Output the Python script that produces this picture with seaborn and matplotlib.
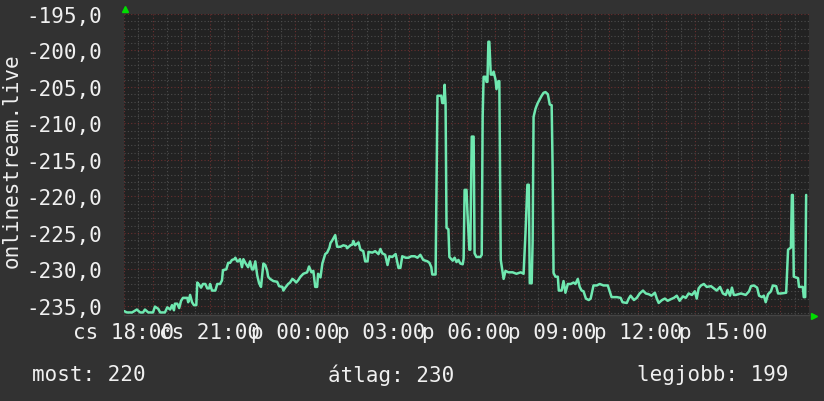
import matplotlib
matplotlib.use("Agg")
import matplotlib.pyplot as plt
from matplotlib.ticker import MultipleLocator, FuncFormatter
import seaborn as sns
import pandas as pd
import numpy as np

# minutes since Thursday 18:00
minutes = [0, 6, 17, 27, 34, 40, 44, 51, 61, 65, 72, 76, 86, 91, 97, 101, 105, 107, 112, 116,
           120, 124, 133, 135, 139, 143, 147, 152, 154, 158, 162, 166, 171, 175, 179, 181, 185, 192, 196, 202,
           206, 208, 215, 219, 223, 227, 232, 234, 238, 240, 244, 248, 251, 255, 261, 265, 269, 272, 276, 280,
           284, 288, 293, 297, 301, 303, 307, 314, 322, 326, 333, 335, 339, 345, 349, 354, 358, 362, 366, 371,
           377, 385, 389, 394, 398, 402, 406, 408, 413, 417, 423, 427, 432, 434, 438, 444, 448, 455, 461, 467,
           469, 476, 480, 482, 486, 493, 497, 503, 507, 512, 514, 522, 528, 535, 539, 543, 549, 554, 558, 564,
           571, 577, 581, 585, 592, 598, 604, 611, 617, 623, 629, 638, 642, 646, 648, 655, 659, 667, 669, 672,
           674, 676, 678, 682, 684, 691, 695, 699, 703, 707, 712, 714, 716, 720, 722, 726, 728, 731, 735, 737,
           741, 749, 752, 754, 756, 760, 762, 764, 766, 768, 771, 775, 777, 781, 783, 787, 789, 792, 796, 798,
           802, 808, 817, 825, 834, 840, 844, 848, 851, 853, 857, 859, 861, 865, 869, 874, 878, 882, 886, 891,
           895, 899, 901, 903, 907, 912, 914, 920, 924, 928, 933, 939, 945, 949, 954, 958, 962, 966, 971, 977,
           981, 987, 994, 1000, 1008, 1017, 1021, 1025, 1036, 1044, 1048, 1057, 1061, 1065, 1072, 1078, 1084, 1091, 1097, 1103,
           1109, 1116, 1120, 1124, 1131, 1137, 1143, 1149, 1156, 1162, 1168, 1175, 1181, 1187, 1194, 1200, 1204, 1208, 1213, 1219,
           1225, 1234, 1240, 1246, 1253, 1259, 1265, 1269, 1274, 1278, 1282, 1286, 1297, 1307, 1314, 1318, 1324, 1331, 1335, 1341,
           1345, 1349, 1354, 1360, 1364, 1371, 1375, 1381, 1392, 1396, 1402, 1404, 1406, 1408, 1417, 1419, 1427, 1429, 1432, 1434]

values = [-235.7, -235.9, -235.9, -235.5, -235.9, -235.9, -235.5, -235.9, -235.9, -235.1, -235.4, -235.9, -235.9, -235.2, -235.5, -234.9, -235.6, -234.7, -234.7, -235.3,
          -234.3, -233.9, -233.9, -234.5, -233.5, -234.5, -234.9, -234.9, -231.8, -232.1, -232.5, -232.0, -232.0, -232.6, -232.6, -232.0, -232.9, -232.9, -232.0, -232.0,
          -231.5, -230.1, -230.0, -229.1, -229.1, -228.7, -228.6, -228.4, -228.9, -228.9, -228.6, -229.7, -228.6, -229.1, -229.7, -228.9, -230.0, -230.0, -228.9, -230.8,
          -231.9, -232.4, -229.2, -229.4, -230.2, -231.0, -231.3, -231.6, -231.7, -232.3, -232.4, -232.9, -232.5, -232.0, -231.8, -231.3, -231.5, -231.8, -231.5, -231.0,
          -230.6, -230.4, -229.6, -230.4, -230.2, -232.4, -232.4, -230.6, -231.1, -229.2, -227.9, -227.7, -227.0, -226.4, -226.0, -225.3, -226.9, -226.9, -226.7, -226.8,
          -227.1, -226.7, -226.6, -226.1, -226.7, -226.3, -227.3, -227.5, -228.9, -228.9, -227.6, -227.7, -227.5, -227.9, -227.2, -227.8, -228.0, -229.4, -228.2, -228.3,
          -227.9, -229.8, -229.8, -228.2, -228.4, -228.4, -228.2, -228.2, -228.4, -228.0, -228.7, -228.9, -229.1, -229.7, -230.7, -230.7, -206.2, -206.2, -207.2, -207.2,
          -204.7, -207.3, -224.3, -224.5, -228.3, -228.8, -228.4, -229.0, -228.7, -229.2, -229.3, -228.5, -219.1, -219.1, -222.2, -227.3, -227.3, -211.8, -211.8, -227.8,
          -228.3, -228.3, -228.0, -209.0, -203.6, -203.6, -204.3, -204.3, -198.8, -198.8, -203.3, -203.3, -202.9, -204.0, -205.3, -204.2, -204.2, -228.7, -230.5, -231.3,
          -230.2, -230.4, -230.4, -230.6, -230.4, -230.6, -225.0, -218.4, -218.4, -231.9, -231.9, -226.2, -209.1, -208.0, -207.3, -206.7, -206.2, -205.8, -205.7, -206.0,
          -207.4, -207.5, -215.9, -230.5, -231.0, -231.0, -232.9, -232.9, -231.6, -233.2, -232.0, -232.0, -231.8, -232.0, -231.3, -232.4, -232.9, -233.0, -234.0, -234.2,
          -234.0, -232.2, -232.2, -232.0, -232.2, -232.2, -233.0, -233.8, -233.8, -233.9, -234.5, -234.6, -234.0, -233.6, -234.2, -233.9, -233.3, -232.9, -233.3, -233.4,
          -233.6, -233.2, -234.0, -234.6, -234.2, -234.0, -234.3, -234.1, -233.9, -233.6, -234.3, -233.7, -233.9, -233.3, -233.5, -233.0, -234.0, -232.6, -232.2, -232.0,
          -232.4, -232.3, -232.6, -232.9, -232.4, -233.3, -233.5, -232.8, -233.6, -232.5, -233.5, -233.5, -233.3, -233.5, -233.0, -232.3, -232.2, -232.5, -233.6, -233.8,
          -233.6, -234.5, -233.4, -233.0, -232.2, -232.3, -233.3, -233.3, -233.2, -227.3, -227.0, -219.8, -219.8, -231.0, -231.2, -232.4, -232.4, -233.8, -233.8, -219.8]

tick_hours = [0, 3, 6, 9, 12, 15, 18, 21]
tick_labels = ["cs 18:00", "cs 21:00", "p 00:00", "p 03:00", "p 06:00", "p 09:00", "p 12:00", "p 15:00"]
y_label = "onlinestream.live"
footer = ["most: 220", "átlag: 230", "legjobb: 199"]

BG = "#323232"
PLOT_BG = "#222222"
FG = "#f0f0f0"
LINE = "#6fe8b0"
MAJOR = "#6a2f2f"
MINOR = "#4c4c4c"
ARROW = "#00dd00"

sns.set_theme(style="dark")
plt.rcParams["font.family"] = ["DejaVu Sans Mono"]
plt.rcParams["font.size"] = 15

df = pd.DataFrame({"hours": np.array(minutes) / 60.0, "value": values})

fig = plt.figure(figsize=(8.24, 4.02), dpi=100, facecolor=BG)
ax = fig.add_axes([124 / 824, 1 - 316 / 402, (809 - 124) / 824, (316 - 15) / 402])
ax.set_facecolor(PLOT_BG)

ax.set_xlim(0, 24)
ax.set_ylim(-236.25, -195.0)

# dotted grid: hours / 5 units (red), half hours / 1 unit (gray)
ax.grid(False)
for h in np.arange(0, 24.01, 0.5):
    ax.axvline(h, color=MAJOR if float(h).is_integer() else MINOR,
               linestyle=(0, (1, 2)), linewidth=0.8, zorder=1)
for v in range(-236, -194):
    ax.axhline(v, color=MAJOR if v % 5 == 0 else MINOR,
               linestyle=(0, (1, 2)), linewidth=0.8, zorder=1)

sns.lineplot(data=df, x="hours", y="value", ax=ax, color=LINE, linewidth=1.8, zorder=3)

ax.set_xticks(tick_hours, labels=tick_labels)
ax.set_xticks(np.arange(0, 24.01, 1), minor=True)
ax.yaxis.set_major_locator(MultipleLocator(5))
ax.yaxis.set_major_formatter(FuncFormatter(lambda v, p: f"{v:.1f}".replace(".", ",")))
ax.tick_params(axis="x", which="major", colors=FG, labelsize=15, length=3, color=MAJOR, pad=2)
ax.tick_params(axis="x", which="minor", length=3, color=MAJOR)
ax.tick_params(axis="y", which="major", colors=FG, labelsize=15, length=2, color=MAJOR, pad=14)
ax.tick_params(axis="y", which="minor", length=0)

ax.set_xlabel("")
ax.set_ylabel("")
for s in ["top", "left", "right"]:
    ax.spines[s].set_visible(False)
ax.spines["bottom"].set_color("#444444")
ax.spines["bottom"].set_linewidth(1)

# arrows
ax.plot([0.002], [1.018], transform=ax.transAxes, marker="^", ms=5, color=ARROW, clip_on=False, zorder=5)
ax.plot([1.008], [-0.002], transform=ax.transAxes, marker=">", ms=5, color=ARROW, clip_on=False, zorder=5)

fig.text(12 / 824, 1 - 161 / 402, y_label, rotation=90, ha="center", va="center", color=FG, fontsize=15)

fig.text(32 / 824, 1 - 375 / 402, footer[0], ha="left", va="center", color=FG, fontsize=15)
fig.text(328 / 824, 1 - 375 / 402, footer[1], ha="left", va="center", color=FG, fontsize=15)
fig.text(637 / 824, 1 - 375 / 402, footer[2], ha="left", va="center", color=FG, fontsize=15)

fig.savefig("out.png", dpi=100, facecolor=BG)
